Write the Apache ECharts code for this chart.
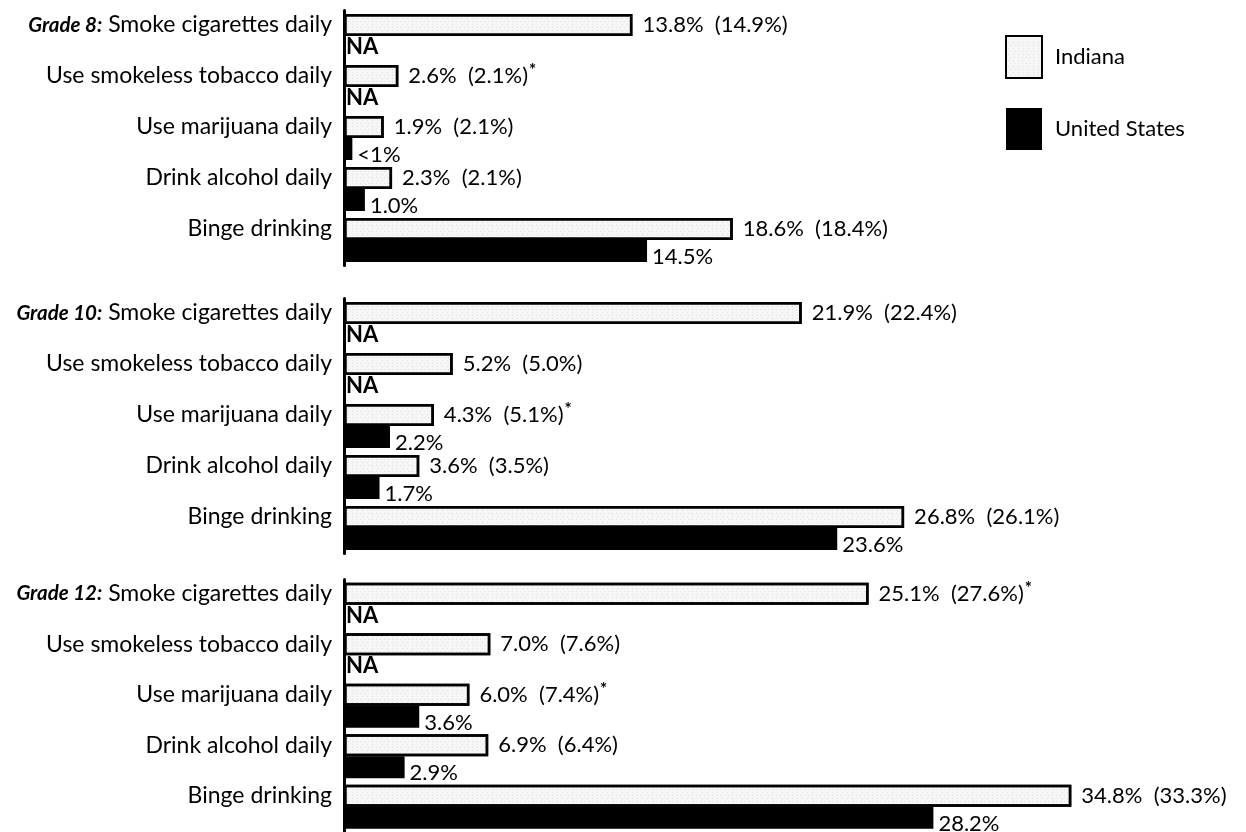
<!DOCTYPE html>
<html>
<head>
<meta charset="utf-8">
<title>Daily substance use, Indiana vs United States</title>
<script src="https://cdn.jsdelivr.net/npm/echarts@6/dist/echarts.min.js"></script>
<style>
  html, body { margin: 0; padding: 0; background: #fff; }
  #chart { width: 1246px; height: 832px; }
</style>
</head>
<body>
<div id="chart"></div>
<script>
// Behaviours shown for every grade
const behaviors = [
  'Smoke cigarettes daily',
  'Use smokeless tobacco daily',
  'Use marijuana daily',
  'Drink alcohol daily',
  'Binge drinking'
];
const grades = ['Grade 8:', 'Grade 10:', 'Grade 12:'];

// Indiana (percent), earlier value in parentheses, and flag for asterisk
const indiana8  = [13.8, 2.6, 1.9, 2.3, 18.6];
const prior8    = [14.9, 2.1, 2.1, 2.1, 18.4];
const star8     = [false, true, false, false, false];
const indiana10 = [21.9, 5.2, 4.3, 3.6, 26.8];
const prior10   = [22.4, 5.0, 5.1, 3.5, 26.1];
const star10    = [false, false, true, false, false];
const indiana12 = [25.1, 7.0, 6.0, 6.9, 34.8];
const prior12   = [27.6, 7.6, 7.4, 6.4, 33.3];
const star12    = [true, false, true, false, false];

// United States (percent); null = not available
const us8  = [null, null, 0.4, 1.0, 14.5];
const us10 = [null, null, 2.2, 1.7, 23.6];
const us12 = [null, null, 3.6, 2.9, 28.2];

const groups = [
  { grade: grades[0], ind: indiana8,  prior: prior8,  star: star8,  us: us8 },
  { grade: grades[1], ind: indiana10, prior: prior10, star: star10, us: us10 },
  { grade: grades[2], ind: indiana12, prior: prior12, star: star12, us: us12 }
];

const FONT = 'Lato';
const FS = 22;
const gridTops = [10.5, 298.5, 579.5];
const BAND = 51;

const pct = v => v.toFixed(1) + '%';

const grid = [], xAxis = [], yAxis = [], series = [];

groups.forEach((g, i) => {
  grid.push({ left: 344, right: 66, top: gridTops[i], height: BAND * behaviors.length, containLabel: false });
  xAxis.push({
    gridIndex: i, type: 'value', min: 0, max: 40,
    show: false
  });
  yAxis.push({
    gridIndex: i, type: 'category', inverse: true, data: behaviors,
    axisLine: { show: true, onZero: false, lineStyle: { color: '#000', width: 3 } },
    axisTick: { show: false },
    splitLine: { show: false },
    axisLabel: {
      margin: 12,
      padding: [0, 0, 22, 0],
      fontFamily: FONT, fontSize: 23, color: '#000',
      formatter: (val, idx) => idx === 0 ? '{g|' + g.grade + '} ' + val : val,
      rich: {
        g: { fontFamily: FONT, fontSize: 20.5, fontWeight: 'bold', fontStyle: 'italic', color: '#000' }
      }
    }
  });

  series.push({
    name: 'Indiana', type: 'bar', xAxisIndex: i, yAxisIndex: i,
    barWidth: 22, barGap: '0%',
    itemStyle: {
      color: '#f6f6f6', borderColor: '#000', borderWidth: 2.5,
      decal: {
        symbol: 'rect', symbolSize: 0.6,
        dashArrayX: [[1, 3], [0, 2, 1, 2]], dashArrayY: [1, 2],
        color: 'rgba(100,100,100,0.5)'
      }
    },
    label: {
      show: true, position: 'right', distance: 10,
      fontFamily: FONT, fontSize: FS, color: '#000',
      rich: {
        t: { fontFamily: FONT, fontSize: FS, color: '#000' },
        s: { fontFamily: FONT, fontSize: 17, fontWeight: 'bold', color: '#000', padding: [0, 0, 10, 1] }
      }
    },
    data: g.ind.map((v, k) => ({
      value: v,
      label: {
        formatter: '{t|' + pct(v) + '  (' + pct(g.prior[k]) + ')}' + (g.star[k] ? '{s|*}' : '')
      }
    }))
  });

  series.push({
    name: 'United States', type: 'bar', xAxisIndex: i, yAxisIndex: i,
    barWidth: 22, barGap: '0%',
    itemStyle: { color: '#000' },
    label: {
      show: true, position: 'right', distance: 5,
      fontFamily: FONT, fontSize: FS, color: '#000'
    },
    data: g.us.map(v => ({
      value: v === null ? 0 : v,
      label: {
        formatter: v === null ? 'NA' : (v < 1 ? '<1%' : pct(v)),
        offset: v === null ? [-3, 0] : [0, 6],
        fontWeight: v === null ? 'bold' : 'normal'
      }
    }))
  });
});

const chart = echarts.init(document.getElementById('chart'), null, { renderer: 'canvas' });
chart.setOption({
  animation: false,
  backgroundColor: '#fff',
  legend: {
    data: ['Indiana', 'United States'],
    orient: 'vertical', left: 1000, top: 30,
    icon: 'rect', itemWidth: 36, itemHeight: 42, itemGap: 29,
    textStyle: { fontFamily: FONT, fontSize: FS, color: '#000', padding: [0, 0, 0, 8] }
  },
  grid, xAxis, yAxis, series
});
</script>
</body>
</html>
